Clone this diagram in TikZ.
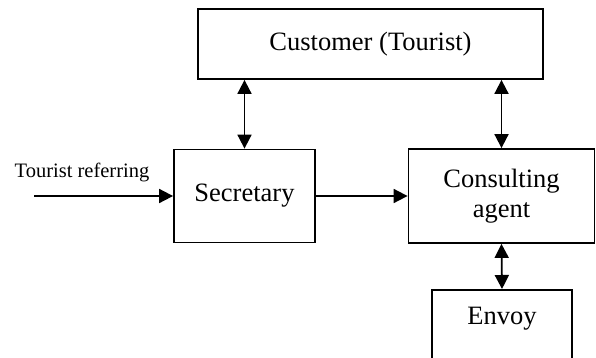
\documentclass[tikz,border=0pt]{standalone}
\usepackage{fontspec}
\setmainfont{Liberation Serif}
\usetikzlibrary{arrows.meta,positioning,calc}

\begin{document}
\begin{tikzpicture}[x=1pt,y=1pt,
    unit/.style={draw,line width=1.8pt,inner sep=0pt,align=center,font=\fontsize{26.5}{30}\selectfont},
    flow/.style={line width=1.8pt,-{Triangle[length=14pt,width=14pt]}},
    both/.style={line width=1.8pt,{Triangle[length=14pt,width=14pt]}-{Triangle[length=14pt,width=14pt]}}]
  \clip (0,0) rectangle (596,357);
  % Customer
  \node[unit,minimum width=345pt,minimum height=70pt] (cust) at (370.5,313) {Customer (Tourist)};
  % Secretary
  \node[unit,minimum width=141pt,minimum height=93pt] (sec) at (244.5,161) {Secretary};
  % Consulting agent
  \node[unit,minimum width=186pt,minimum height=94pt] (cons) at (501.5,161) {Consulting\\agent};
  % Envoy (runs off the bottom)
  \node[unit,minimum width=140pt,minimum height=90pt,anchor=north] (envoy) at (502,68) {};
  \node[font=\fontsize{26.5}{30}\selectfont] (envoytxt) at (502,38) {Envoy};
  % Incoming request
  \coordinate (src) at (34,161);
  \node[font=\fontsize{20.5}{22}\selectfont] (reflbl) at (82,185) {Tourist referring};
  % Links
  \draw[flow] (src) -- (sec.west);
  \draw[flow] (sec.east) -- (cons.west);
  \draw[both] (sec.north) -- (sec.north |- cust.south);
  \draw[both] (cons.north) -- (cons.north |- cust.south);
  \draw[both] (cons.south) -- (envoy.north);
\end{tikzpicture}
\end{document}
